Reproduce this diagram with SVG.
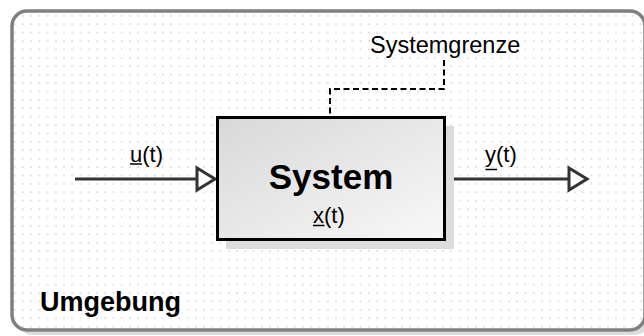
<svg xmlns="http://www.w3.org/2000/svg" width="644" height="336" viewBox="0 0 644 336">
  <style>
    .lbl { font-family: "Liberation Sans", Arial, sans-serif; fill: #000; }
    .uline { stroke: #000; stroke-width: 1.5; }
    .conn { stroke: #333; stroke-width: 3; fill: none; }
    .bound { stroke: #000; stroke-width: 2; fill: none; stroke-dasharray: 6 3.5; }
  </style>
  <defs>
    <pattern id="dots" patternUnits="userSpaceOnUse" x="-1.9" y="-1" width="8.24" height="8.4">
      <circle cx="0" cy="0" r="0.8" fill="#c4c4c4"/>
      <circle cx="8.24" cy="0" r="0.8" fill="#c4c4c4"/>
      <circle cx="0" cy="8.4" r="0.8" fill="#c4c4c4"/>
      <circle cx="8.24" cy="8.4" r="0.8" fill="#c4c4c4"/>
    </pattern>
    <linearGradient id="boxFill" x1="0" y1="0" x2="1" y2="1">
      <stop offset="0" stop-color="#d8d8d8"/>
      <stop offset="1" stop-color="#f8f8f8"/>
    </linearGradient>
    <marker id="openArrow" markerUnits="userSpaceOnUse" markerWidth="26" markerHeight="28" refX="20" refY="13" orient="auto" overflow="visible">
      <path d="M2,2 L20,13 L2,24 Z" fill="#fff" stroke="#333" stroke-width="3" stroke-linejoin="miter"/>
    </marker>
  </defs>

  <!-- environment frame -->
  <g id="umgebung">
    <rect x="17" y="16" width="633" height="319" rx="15" fill="#dcdcdc"/>
    <rect x="12" y="11" width="633" height="319" rx="15" fill="#fff"/>
    <rect x="12" y="11" width="633" height="319" rx="15" fill="url(#dots)"/>
    <rect x="12" y="11" width="633" height="319" rx="15" fill="none" stroke="#808080" stroke-width="3.5"/>
    <text class="lbl" x="40" y="311" font-size="27" font-weight="bold">Umgebung</text>
  </g>

  <!-- connectors -->
  <g id="connectors">
    <line class="conn" x1="75" y1="179" x2="215" y2="179" marker-end="url(#openArrow)"/>
    <line class="conn" x1="446" y1="179" x2="587" y2="179" marker-end="url(#openArrow)"/>
    <polyline class="bound" points="444,60 444,89 330,89 330,115"/>
  </g>

  <!-- system block -->
  <g id="system">
    <rect x="226" y="126" width="228" height="123" fill="#dcdcdc"/>
    <rect x="217.5" y="117.5" width="227" height="122" fill="url(#boxFill)" stroke="#000" stroke-width="3"/>
    <text class="lbl" x="331" y="189" font-size="35" font-weight="bold" text-anchor="middle">System</text>
    <text class="lbl" x="313" y="223" font-size="22">x(t)</text>
    <line class="uline" x1="313" y1="225.5" x2="324.5" y2="225.5"/>
  </g>

  <g id="input-label">
    <text class="lbl" x="130" y="162" font-size="22">u(t)</text>
    <line class="uline" x1="130" y1="164" x2="142" y2="164"/>
  </g>
  <g id="output-label">
    <text class="lbl" x="485" y="162" font-size="22">y(t)</text>
    <line class="uline" x1="485.5" y1="169.5" x2="497" y2="169.5"/>
  </g>
  <g id="systemgrenze">
    <text class="lbl" x="370" y="53" font-size="23.5">Systemgrenze</text>
  </g>
</svg>
